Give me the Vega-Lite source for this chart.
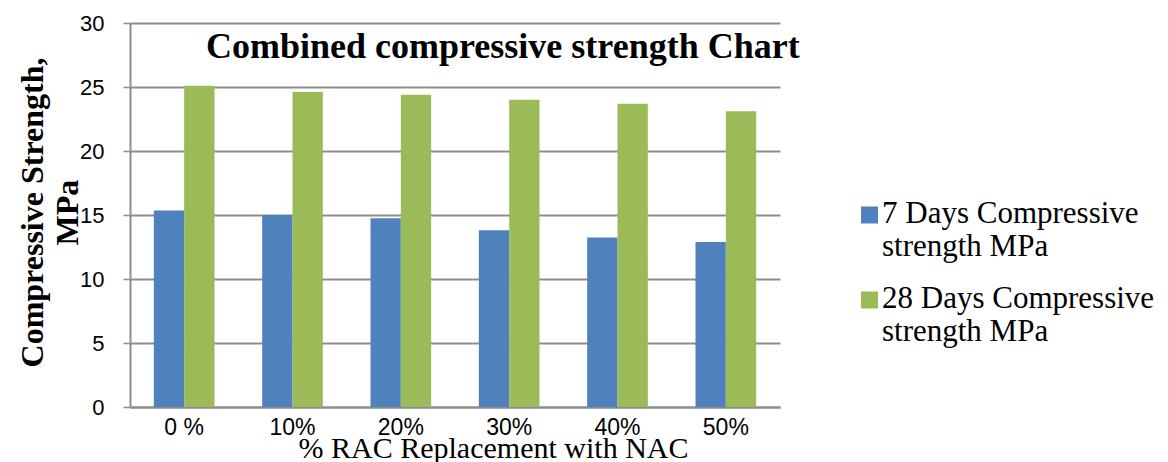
{
  "$schema": "https://vega.github.io/schema/vega-lite/v6.json",
  "width": 650,
  "height": 384,
  "autosize": "none",
  "padding": {"left": 130, "top": 23, "right": 388, "bottom": 55},
  "background": "white",
  "title": {
    "text": "Combined compressive strength Chart",
    "font": "Liberation Serif",
    "fontWeight": "bold",
    "fontSize": 36,
    "color": "black",
    "anchor": "start",
    "orient": "top",
    "frame": "group",
    "baseline": "alphabetic",
    "dx": 76,
    "dy": 82,
    "offset": 0
  },
  "data": {
    "values": [
      {"replacement": "0 %", "series": "7 Days Compressive strength MPa", "strength": 15.35},
      {"replacement": "0 %", "series": "28 Days Compressive strength MPa", "strength": 25.1},
      {"replacement": "10%", "series": "7 Days Compressive strength MPa", "strength": 15.0},
      {"replacement": "10%", "series": "28 Days Compressive strength MPa", "strength": 24.6},
      {"replacement": "20%", "series": "7 Days Compressive strength MPa", "strength": 14.75},
      {"replacement": "20%", "series": "28 Days Compressive strength MPa", "strength": 24.4},
      {"replacement": "30%", "series": "7 Days Compressive strength MPa", "strength": 13.8},
      {"replacement": "30%", "series": "28 Days Compressive strength MPa", "strength": 24.0},
      {"replacement": "40%", "series": "7 Days Compressive strength MPa", "strength": 13.25},
      {"replacement": "40%", "series": "28 Days Compressive strength MPa", "strength": 23.7},
      {"replacement": "50%", "series": "7 Days Compressive strength MPa", "strength": 12.9},
      {"replacement": "50%", "series": "28 Days Compressive strength MPa", "strength": 23.1}
    ]
  },
  "mark": {"type": "bar"},
  "encoding": {
    "x": {
      "field": "replacement",
      "type": "nominal",
      "sort": null,
      "scale": {"paddingInner": 0.44, "paddingOuter": 0.22},
      "axis": {
        "title": "% RAC Replacement with NAC",
        "titleFont": "Liberation Serif",
        "titleFontWeight": "normal",
        "titleFontSize": 30,
        "titleColor": "black",
        "titleX": 363,
        "titleY": 50,
        "titleBaseline": "alphabetic",
        "labelAngle": 0,
        "labelFont": "Liberation Sans",
        "labelFontSize": 23,
        "labelColor": "black",
        "labelPadding": 9,
        "ticks": false,
        "domainColor": "#8c8c8c",
        "domainWidth": 2
      }
    },
    "y": {
      "field": "strength",
      "type": "quantitative",
      "scale": {"domain": [0, 30], "nice": false},
      "axis": {
        "title": ["Compressive Strength,", "MPa"],
        "titleFont": "Liberation Serif",
        "titleFontWeight": "bold",
        "titleFontSize": 32,
        "titleColor": "black",
        "titleLineHeight": 35,
        "titleAngle": -90,
        "titleAlign": "center",
        "titleBaseline": "alphabetic",
        "titleX": -88,
        "titleY": 189,
        "values": [0, 5, 10, 15, 20, 25, 30],
        "labelFont": "Liberation Sans",
        "labelFontSize": 22,
        "labelColor": "black",
        "labelPadding": 19,
        "tickSize": 7,
        "tickColor": "#8c8c8c",
        "tickWidth": 1.5,
        "domainColor": "#8c8c8c",
        "domainWidth": 2,
        "grid": true,
        "gridColor": "#8c8c8c",
        "gridWidth": 2
      }
    },
    "xOffset": {
      "field": "series",
      "type": "nominal",
      "sort": ["7 Days Compressive strength MPa", "28 Days Compressive strength MPa"]
    },
    "color": {
      "field": "series",
      "type": "nominal",
      "sort": ["7 Days Compressive strength MPa", "28 Days Compressive strength MPa"],
      "scale": {
        "domain": ["7 Days Compressive strength MPa", "28 Days Compressive strength MPa"],
        "range": ["#4f81bd", "#9bbb59"]
      },
      "legend": {
        "title": null,
        "orient": "none",
        "legendX": 724,
        "legendY": 160,
        "symbolType": "M-1,0.94L1,0.94L1,2.94L-1,2.94Z",
        "symbolSize": 289,
        "symbolStrokeWidth": 0,
        "labelFont": "Liberation Serif",
        "labelFontSize": 31,
        "labelColor": "black",
        "labelLimit": 400,
        "labelOffset": -3,
        "labelBaseline": "top",
        "rowPadding": 6,
        "labelExpr": "[slice(datum.label, 0, indexof(datum.label, ' strength')), 'strength MPa']"
      }
    }
  },
  "config": {
    "view": {"stroke": null}
  }
}
